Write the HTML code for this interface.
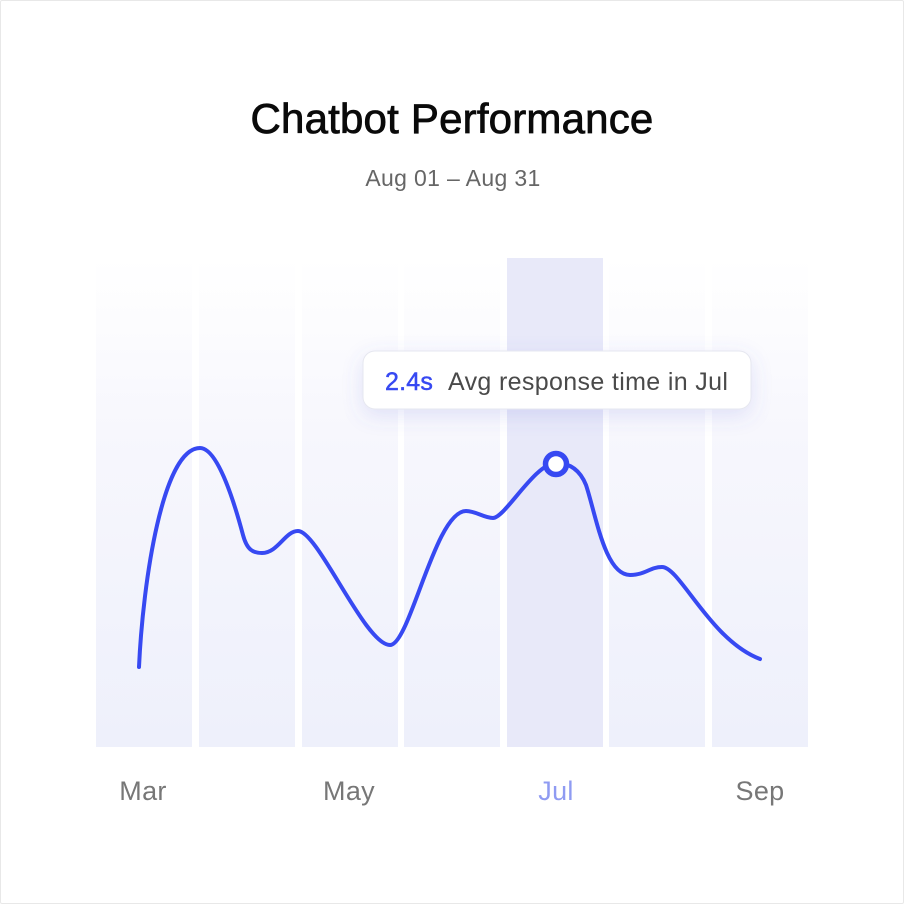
<!DOCTYPE html>
<html>
<head>
<meta charset="utf-8">
<style>
  html, body { margin: 0; padding: 0; background: #ffffff; }
  body { width: 904px; height: 904px; overflow: hidden; }
  .frame { position: absolute; left: 0; top: 0; width: 902px; height: 902px; border: 1px solid #e8e8e8; border-radius: 2px; background: #fff; }
  svg { position: absolute; left: 0; top: 0; }
  text { font-family: "Liberation Sans", sans-serif; }
</style>
</head>
<body>
<div class="frame"></div>
<svg width="904" height="904" viewBox="0 0 904 904" xmlns="http://www.w3.org/2000/svg">
  <defs>
    <linearGradient id="barg" x1="0" y1="0" x2="0" y2="1">
      <stop offset="0" stop-color="#ffffff"/>
      <stop offset="0.35" stop-color="#f7f7fd"/>
      <stop offset="1" stop-color="#eef0fb"/>
    </linearGradient>
    <filter id="sh" x="-20%" y="-60%" width="140%" height="220%">
      <feGaussianBlur in="SourceAlpha" stdDeviation="10"/>
      <feOffset dy="6" result="b"/>
      <feFlood flood-color="#5a64d8" flood-opacity="0.16"/>
      <feComposite in2="b" operator="in"/>
      <feMerge><feMergeNode/><feMergeNode in="SourceGraphic"/></feMerge>
    </filter>
  </defs>

  <!-- Title -->
  <text x="452" y="133" text-anchor="middle" font-size="42" fill="#0a0a0a" stroke="#0a0a0a" stroke-width="0.8" letter-spacing="0.2">Chatbot Performance</text>
  <text x="453" y="186" text-anchor="middle" font-size="23" fill="#666666" letter-spacing="0.35">Aug 01 – Aug 31</text>

  <!-- Bars -->
  <rect x="96" y="258" width="96" height="489" fill="url(#barg)"/>
  <rect x="199" y="258" width="96" height="489" fill="url(#barg)"/>
  <rect x="302" y="258" width="96" height="489" fill="url(#barg)"/>
  <rect x="404" y="258" width="96" height="489" fill="url(#barg)"/>
  <rect x="507" y="258" width="96" height="489" fill="#e8e9f9"/>
  <rect x="609" y="258" width="96" height="489" fill="url(#barg)"/>
  <rect x="712" y="258" width="96" height="489" fill="url(#barg)"/>

  <!-- Line -->
  <path d="M139,667
           C143,580 163,448 200,448
           C218,448 235,505 243,535
           C247,550 253,553 262,553
           C278,553 285,531 298,531
           C318,531 365,645 390,645
           C410,645 435,511 466,511
           C476,511 484,518 493,518
           C505,518 535,463 556,463
           C570,463 580,470 586,485
           C596,515 605,575 630,575
           C645,575 650,567 662,567
           C680,567 710,640 760,659"
        fill="none" stroke="#3749f2" stroke-width="4" stroke-linecap="round" stroke-linejoin="round"/>
  <circle cx="556" cy="464" r="10.5" fill="#ffffff" stroke="#3749f2" stroke-width="5.5"/>

  <!-- Tooltip -->
  <g filter="url(#sh)">
    <rect x="363" y="351" width="388" height="58" rx="12" ry="12" fill="#ffffff" stroke="#e6e7f0" stroke-width="1"/>
  </g>
  <text x="385" y="390" font-size="25" fill="#3749f2" stroke="#3749f2" stroke-width="0.5" letter-spacing="0.2">2.4s</text>
  <text x="448" y="390" font-size="25" fill="#4a4a4a" letter-spacing="0.35">Avg response time in Jul</text>

  <!-- Axis labels -->
  <text x="143" y="800" text-anchor="middle" font-size="27" fill="#777777" letter-spacing="0.3">Mar</text>
  <text x="349" y="800" text-anchor="middle" font-size="27" fill="#777777" letter-spacing="0.3">May</text>
  <text x="556" y="800" text-anchor="middle" font-size="27" fill="#8f9bf2" letter-spacing="0.3">Jul</text>
  <text x="760" y="800" text-anchor="middle" font-size="27" fill="#777777" letter-spacing="0.3">Sep</text>
</svg>
</body>
</html>
